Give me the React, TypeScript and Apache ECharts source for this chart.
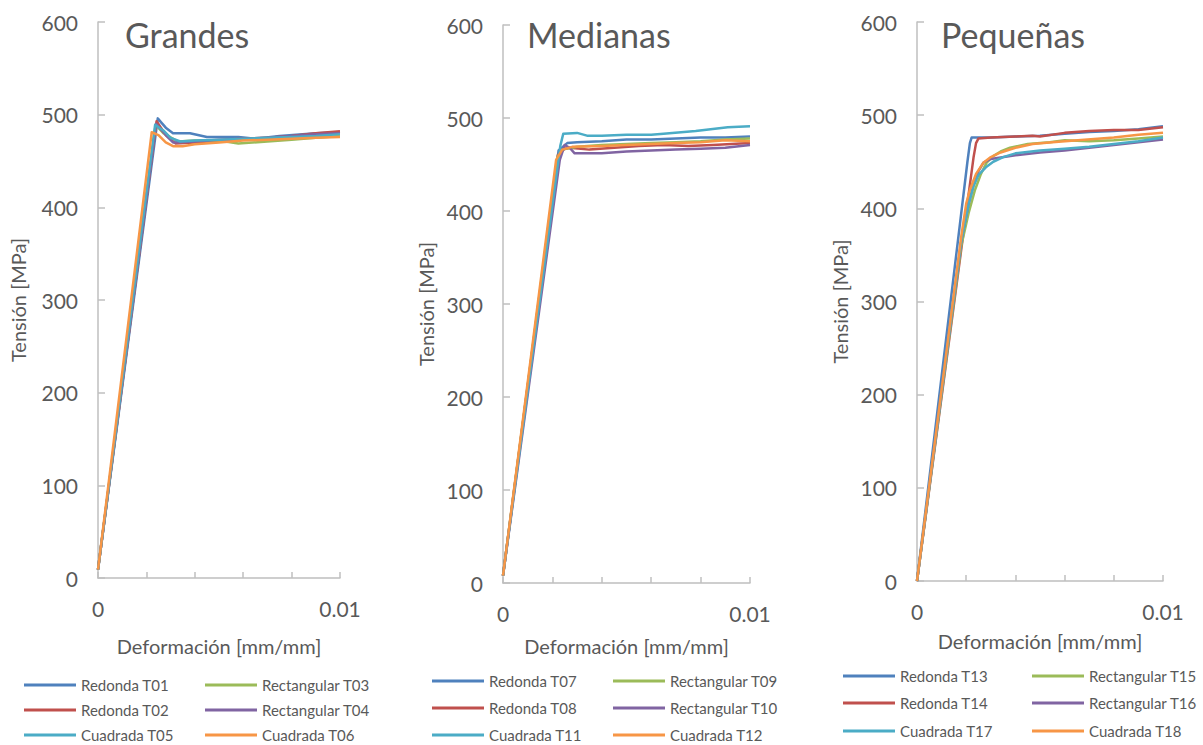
import React, { useEffect, useRef } from "react";
import * as echarts from "echarts";

// ---------- DATA ----------
const panelTitles = ["Grandes", "Medianas", "Pequeñas"];
const seriesColors = ["#4F81BD", "#C0504D", "#9BBB59", "#8064A2", "#4BACC6", "#F79646"];
const yTicks = [0, 100, 200, 300, 400, 500, 600];
const xLabels = ["0", "0.01"];

const namesGrandes = ["Redonda T01", "Redonda T02", "Rectangular T03", "Rectangular T04", "Cuadrada T05", "Cuadrada T06"];
const namesMedianas = ["Redonda T07", "Redonda T08", "Rectangular T09", "Rectangular T10", "Cuadrada T11", "Cuadrada T12"];
const namesPequenas = ["Redonda T13", "Redonda T14", "Rectangular T15", "Rectangular T16", "Cuadrada T17", "Cuadrada T18"];

// Grandes
const T01 = [[0, 9], [0.00247, 496], [0.0026, 492], [0.0028, 486], [0.0031, 480], [0.0038, 480], [0.0045, 476], [0.0058, 476], [0.0065, 474], [0.0075, 477], [0.009, 480], [0.01, 481]];
const T02 = [[0, 9], [0.00242, 493], [0.0026, 486], [0.0028, 478], [0.0032, 469], [0.004, 470], [0.005, 472], [0.006, 474], [0.007, 475], [0.008, 477], [0.009, 480], [0.01, 482]];
const T03 = [[0, 9], [0.00238, 489], [0.0027, 480], [0.0033, 471], [0.004, 472], [0.005, 472], [0.0058, 469], [0.007, 471], [0.008, 473], [0.009, 475], [0.01, 477]];
const T04 = [[0, 9], [0.0024, 490], [0.0028, 478], [0.0031, 470], [0.004, 471], [0.005, 473], [0.006, 474], [0.007, 475], [0.008, 477], [0.009, 479], [0.01, 480]];
const T05 = [[0, 9], [0.00236, 489], [0.0027, 483], [0.003, 475], [0.0034, 471], [0.004, 472], [0.005, 473], [0.006, 474], [0.007, 475], [0.008, 476], [0.009, 477], [0.01, 479]];
const T06 = [[0, 9], [0.00222, 481], [0.0025, 478], [0.0028, 470], [0.0031, 466], [0.0035, 466], [0.004, 468], [0.005, 470], [0.006, 472], [0.007, 473], [0.008, 474], [0.009, 475], [0.01, 476]];

// Medianas
const T07 = [[0, 8], [0.00225, 465], [0.0026, 473], [0.003, 474], [0.004, 475], [0.005, 477], [0.006, 477], [0.007, 478], [0.008, 479], [0.009, 479], [0.01, 480]];
const T08 = [[0, 8], [0.00222, 460], [0.0025, 467], [0.0027, 468], [0.0035, 466], [0.0045, 468], [0.0055, 470], [0.0065, 471], [0.0075, 470], [0.0085, 471], [0.01, 473]];
const T09 = [[0, 8], [0.0022, 458], [0.0024, 466], [0.003, 469], [0.004, 471], [0.005, 472], [0.006, 473], [0.007, 474], [0.008, 475], [0.009, 477], [0.01, 478]];
const T10 = [[0, 8], [0.0023, 455], [0.0025, 471], [0.0027, 468], [0.0029, 462], [0.004, 462], [0.005, 464], [0.006, 465], [0.007, 466], [0.008, 467], [0.009, 468], [0.01, 471]];
const T11 = [[0, 8], [0.00232, 470], [0.00244, 483], [0.003, 484], [0.0034, 481], [0.004, 481], [0.005, 482], [0.006, 482], [0.0065, 483], [0.0078, 486], [0.0091, 490], [0.01, 491]];
const T12 = [[0, 8], [0.00215, 455], [0.0024, 466], [0.0028, 469], [0.004, 470], [0.005, 471], [0.006, 472], [0.007, 473], [0.008, 474], [0.009, 476], [0.01, 475]];

// Pequeñas
const T13 = [[0, 0], [0.00205, 450], [0.00215, 470], [0.00222, 476], [0.0025, 476], [0.003, 476], [0.004, 477], [0.005, 478], [0.006, 480], [0.007, 482], [0.008, 483], [0.009, 485], [0.01, 488]];
const T14 = [[0, 0], [0.0023, 455], [0.0024, 470], [0.0025, 475], [0.003, 476], [0.004, 477], [0.0047, 478], [0.005, 477], [0.006, 481], [0.007, 483], [0.008, 484], [0.009, 484], [0.01, 487]];
const T15 = [[0, 0], [0.0018, 360], [0.0021, 395], [0.00236, 420], [0.0026, 437], [0.00283, 449], [0.0031, 456], [0.0034, 461], [0.00378, 465], [0.0045, 469], [0.0054, 471], [0.006, 473], [0.007, 472], [0.008, 473], [0.009, 475], [0.01, 477]];
const T16 = [[0, 0], [0.0018, 365], [0.0021, 405], [0.0023, 425], [0.0025, 440], [0.0027, 449], [0.003, 453], [0.004, 457], [0.005, 460], [0.006, 462], [0.007, 465], [0.008, 468], [0.009, 471], [0.01, 474]];
const T17 = [[0, 0], [0.0018, 365], [0.0021, 405], [0.0023, 424], [0.0025, 436], [0.0028, 444], [0.0031, 450], [0.0035, 455], [0.004, 459], [0.005, 462], [0.006, 464], [0.007, 466], [0.008, 469], [0.009, 472], [0.01, 476]];
const T18 = [[0, 0], [0.0018, 370], [0.002, 405], [0.00215, 420], [0.0024, 437], [0.0027, 449], [0.003, 455], [0.0034, 460], [0.004, 465], [0.0047, 469], [0.0055, 471], [0.0068, 473.5], [0.008, 476], [0.009, 479], [0.01, 481]];

const panelNames = [namesGrandes, namesMedianas, namesPequenas];
const panelData = [
  [T01, T02, T03, T04, T05, T06],
  [T07, T08, T09, T10, T11, T12],
  [T13, T14, T15, T16, T17, T18],
];

// ---------- LAYOUT ----------
const FONT = "Lato, 'Open Sans', sans-serif";
const TEXT = "#595959";
const AXIS = "#BFBFBF";

const grids = [
  { left: 98, top: 22, width: 242, height: 556 },
  { left: 503, top: 25, width: 247, height: 558 },
  { left: 917, top: 22, width: 246, height: 559 },
];
const titlePos = [125, 527, 941];
const yNameGap = [70, 67, 67];
const xNameGap = [58, 53, 50];
const legendCols = [[24, 205], [432, 613], [843, 1032]];
const legendRows = [[685, 710, 735], [681, 708, 735], [676, 703, 731]];
// legend placement order: row-major, [col0, col1]
const legendOrder = [[0, 2], [1, 3], [4, 5]];

export default function App() {
  const ref = useRef<HTMLDivElement>(null);
  useEffect(() => {
    if (!ref.current) return;
    const chart = echarts.init(ref.current, null, { renderer: "svg" });

    const xAxis: any[] = [];
    const yAxis: any[] = [];
    const series: any[] = [];
    const legend: any[] = [];
    const title: any[] = [];

    grids.forEach((g, p) => {
      xAxis.push({
        type: "value",
        gridIndex: p,
        min: 0,
        max: 0.01,
        interval: 0.002,
        name: "Deformación [mm/mm]",
        nameLocation: "middle",
        nameGap: xNameGap[p],
        nameTextStyle: { fontFamily: FONT, fontSize: 20, color: TEXT },
        axisLine: { show: true, lineStyle: { color: AXIS, width: 1.5 } },
        axisTick: { show: true, inside: true, length: 6, lineStyle: { color: AXIS, width: 1.5 } },
        splitLine: { show: false },
        axisLabel: {
          fontFamily: FONT,
          fontSize: 21,
          color: TEXT,
          margin: 20,
          showMaxLabel: true,
          formatter: (v: number) => (Math.abs(v) < 1e-9 ? xLabels[0] : Math.abs(v - 0.01) < 1e-9 ? xLabels[1] : ""),
        },
      });
      yAxis.push({
        type: "value",
        gridIndex: p,
        min: yTicks[0],
        max: yTicks[yTicks.length - 1],
        interval: 100,
        name: "Tensión [MPa]",
        nameLocation: "middle",
        nameGap: yNameGap[p],
        nameTextStyle: { fontFamily: FONT, fontSize: 20, color: TEXT },
        axisLine: { show: true, lineStyle: { color: AXIS, width: 1.5 } },
        axisTick: { show: true, inside: true, length: 7, lineStyle: { color: AXIS, width: 1.5 } },
        splitLine: { show: false },
        axisLabel: { fontFamily: FONT, fontSize: 21, color: TEXT, margin: 20 },
      });
      title.push({
        text: panelTitles[p],
        left: titlePos[p],
        top: 17,
        padding: 0,
        textStyle: { fontFamily: FONT, fontSize: 34, fontWeight: "normal", color: TEXT },
      });
      panelData[p].forEach((d, i) => {
        series.push({
          type: "line",
          name: panelNames[p][i],
          xAxisIndex: p,
          yAxisIndex: p,
          data: d,
          showSymbol: false,
          color: seriesColors[i],
          lineStyle: { width: 2.5, color: seriesColors[i], join: "round" },
        });
      });
      legendOrder.forEach((row, r) => {
        row.forEach((idx, c) => {
          legend.push({
            data: [panelNames[p][idx]],
            left: legendCols[p][c],
            top: legendRows[p][r] - 9,
            padding: 0,
            icon: "rect",
            itemWidth: 52,
            itemHeight: 3,
            itemGap: 0,
            selectedMode: false,
            textStyle: { fontFamily: FONT, fontSize: 15, color: TEXT, lineHeight: 18 },
          });
        });
      });
    });

    chart.setOption({
      animation: false,
      backgroundColor: "#ffffff",
      title,
      grid: grids.map((g) => ({ ...g, containLabel: false })),
      xAxis,
      yAxis,
      legend,
      series,
    });
    return () => chart.dispose();
  }, []);

  return (
    <div
      ref={ref}
      style={{ position: "fixed", left: 0, top: 0, width: 1203, height: 745, background: "#fff" }}
    />
  );
}
